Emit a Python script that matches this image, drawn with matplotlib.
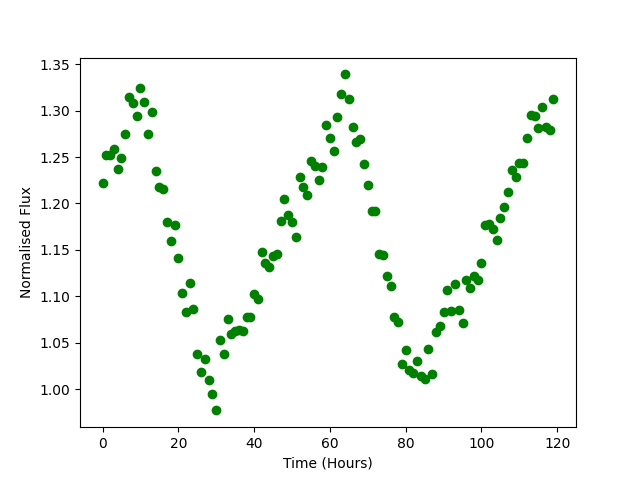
import matplotlib
matplotlib.use('Agg')
import matplotlib.pyplot as plt
import numpy as np

# hourly normalised flux readings
time_hours = np.arange(120)
flux = [1.222, 1.252, 1.252, 1.259, 1.237, 1.249, 1.275, 1.315, 1.308, 1.294,
        1.324, 1.309, 1.275, 1.298, 1.235, 1.218, 1.216, 1.180, 1.160, 1.177,
        1.141, 1.104, 1.083, 1.114, 1.086, 1.038, 1.018, 1.032, 1.010, 0.995,
        0.977, 1.053, 1.038, 1.075, 1.059, 1.063, 1.064, 1.063, 1.078, 1.078,
        1.102, 1.097, 1.148, 1.136, 1.131, 1.143, 1.146, 1.181, 1.205, 1.188,
        1.180, 1.164, 1.228, 1.218, 1.209, 1.246, 1.240, 1.225, 1.239, 1.284,
        1.270, 1.257, 1.293, 1.318, 1.339, 1.313, 1.282, 1.266, 1.269, 1.242,
        1.220, 1.192, 1.192, 1.145, 1.144, 1.122, 1.111, 1.078, 1.072, 1.027,
        1.042, 1.020, 1.017, 1.030, 1.014, 1.011, 1.043, 1.016, 1.062, 1.068,
        1.083, 1.107, 1.084, 1.113, 1.085, 1.071, 1.117, 1.109, 1.122, 1.117,
        1.136, 1.177, 1.178, 1.172, 1.161, 1.184, 1.196, 1.212, 1.236, 1.228,
        1.244, 1.244, 1.271, 1.295, 1.294, 1.281, 1.304, 1.282, 1.279, 1.312]

fig, ax = plt.subplots(figsize=(6.4, 4.8), dpi=100)
ax.plot(time_hours, flux, 'go')
ax.set_xlabel('Time (Hours)')
ax.set_ylabel('Normalised Flux')
plt.savefig('out.png')
